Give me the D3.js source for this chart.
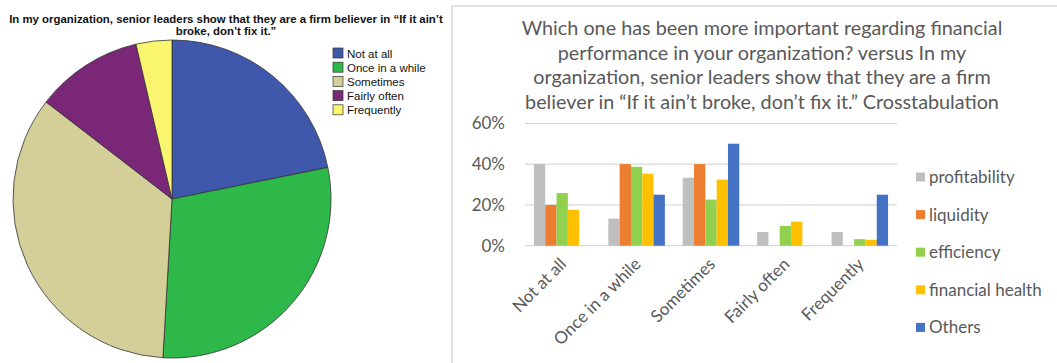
<!DOCTYPE html>
<html>
<head>
<meta charset="utf-8">
<script src="https://cdn.jsdelivr.net/npm/d3@7"></script>
<style>
  html, body { margin: 0; padding: 0; background: #fff; }
  svg { display: block; }
</style>
</head>
<body>
<svg id="chart" width="1057" height="363"></svg>
<script>
// ---- Pie: frequency of responses ----
const pieCategories = ["Not at all", "Once in a while", "Sometimes", "Fairly often", "Frequently"];
const pieCounts = [12, 16, 19, 6, 2];
const pieColors = ["#3f58ab", "#2fb84a", "#d4cf98", "#7a2778", "#faf56f"];
const pieTitle = ["In my organization, senior leaders show that they are a firm believer in \u201cIf it ain\u2019t",
                  "broke, don\u2019t fix it.\u201d"];

// ---- Bars: crosstabulation ----
const barCategories = ["Not at all", "Once in a while", "Sometimes", "Fairly often", "Frequently"];
const seriesNames = ["profitability", "liquidity", "efficiency", "financial health", "Others"];
const seriesColors = ["#bfbfbf", "#ed7d31", "#92d050", "#ffc000", "#4472c4"];
const profitability  = [0.400, 0.133, 0.333, 0.067, 0.067];
const liquidity      = [0.200, 0.400, 0.400, 0.000, 0.000];
const efficiency     = [0.258, 0.387, 0.226, 0.097, 0.032];
const financialHealth= [0.176, 0.353, 0.324, 0.118, 0.029];
const others         = [0.000, 0.250, 0.500, 0.000, 0.250];
const yTicks = [0, 0.2, 0.4, 0.6];
const barTitle = ["Which one has been more important regarding financial",
                  "performance in your organization? versus In my",
                  "organization, senior leaders show that they are a firm",
                  "believer in \u201cIf it ain\u2019t broke, don\u2019t fix it.\u201d Crosstabulation"];

const seriesValues = [profitability, liquidity, efficiency, financialHealth, others];

const svg = d3.select("#chart");

// ================= Pie chart =================
const pieG = svg.append("g");
pieG.selectAll("text.ptitle").data(pieTitle).join("text")
  .attr("class", "ptitle")
  .attr("x", 226).attr("y", (d, i) => 23 + i * 12)
  .attr("text-anchor", "middle")
  .attr("font-family", "Liberation Sans, Arial, sans-serif")
  .attr("font-weight", "bold").attr("font-size", 11.4).attr("fill", "#111")
  .text(d => d);

const pie = d3.pie().sort(null).value(d => d)(pieCounts);
const arc = d3.arc().innerRadius(0).outerRadius(159);
pieG.append("g").attr("transform", "translate(172,199)")
  .selectAll("path").data(pie).join("path")
  .attr("d", arc)
  .attr("fill", (d, i) => pieColors[i])
  .attr("stroke", "#333").attr("stroke-width", 0.8);

const pieLegend = pieG.append("g").attr("transform", "translate(333,48)");
const pl = pieLegend.selectAll("g").data(pieCategories).join("g")
  .attr("transform", (d, i) => `translate(0,${i * 14.2})`);
pl.append("rect").attr("width", 10).attr("height", 10)
  .attr("fill", (d, i) => pieColors[i]).attr("stroke", "#333").attr("stroke-width", 0.7);
pl.append("text").attr("x", 14).attr("y", 9.5)
  .attr("font-family", "Liberation Sans, Arial, sans-serif")
  .attr("font-size", 11.5).attr("fill", "#111").text(d => d);

// ================= Bar chart =================
const barG = svg.append("g");
barG.append("rect").attr("x", 452).attr("y", 6).attr("width", 620).attr("height", 370)
  .attr("fill", "none").attr("stroke", "#d9d9d9").attr("stroke-width", 1.5);

const font = "Lato, 'Open Sans', sans-serif";
barG.selectAll("text.btitle").data(barTitle).join("text")
  .attr("class", "btitle")
  .attr("x", 762).attr("y", (d, i) => 35 + i * 24.5)
  .attr("text-anchor", "middle")
  .attr("font-family", font).attr("font-size", 19.8).attr("fill", "#595959")
  .text(d => d);

const x0 = d3.scaleBand().domain(barCategories).range([525, 897])
  .paddingInner(0.24).paddingOuter(0.12);
const x1 = d3.scaleBand().domain(seriesNames).range([0, x0.bandwidth()]);
const y = d3.scaleLinear().domain([0, 0.6]).range([245.7, 123.3]);

// gridlines
barG.append("g").selectAll("line").data(yTicks).join("line")
  .attr("x1", 525).attr("x2", 897)
  .attr("y1", d => y(d)).attr("y2", d => y(d))
  .attr("stroke", "#d9d9d9").attr("stroke-width", 1.2);

// y axis labels
const yAxis = d3.axisLeft(y).tickValues(yTicks).tickFormat(d3.format(".0%")).tickSize(0).tickPadding(0);
const yg = barG.append("g").attr("transform", "translate(505,0)").call(yAxis);
yg.select(".domain").remove();
yg.selectAll("text").attr("font-family", font).attr("font-size", 17).attr("fill", "#595959");

// bars
const groups = barG.append("g").selectAll("g").data(barCategories).join("g")
  .attr("transform", d => `translate(${x0(d)},0)`);
groups.selectAll("rect").data((c, ci) => seriesNames.map((s, si) => ({ s, si, v: seriesValues[si][ci] })))
  .join("rect")
  .attr("x", d => x1(d.s)).attr("width", x1.bandwidth())
  .attr("y", d => y(d.v)).attr("height", d => y(0) - y(d.v))
  .attr("fill", d => seriesColors[d.si]);

// x axis labels (rotated)
const xAxis = d3.axisBottom(x0).tickSize(0).tickPadding(0);
const xg = barG.append("g").attr("transform", "translate(0,257)").call(xAxis);
xg.select(".domain").remove();
xg.selectAll("text")
  .attr("font-family", font).attr("font-size", 17).attr("fill", "#595959")
  .attr("text-anchor", "end").attr("dy", "0.35em")
  .attr("transform", "translate(1,4) rotate(-45)");

// legend
const lg = barG.append("g").attr("transform", "translate(916,177)");
const li = lg.selectAll("g").data(seriesNames).join("g")
  .attr("transform", (d, i) => `translate(0,${i * 37.6})`);
li.append("rect").attr("y", -4.5).attr("width", 9).attr("height", 9)
  .attr("fill", (d, i) => seriesColors[i]);
li.append("text").attr("x", 13).attr("dy", "0.35em")
  .attr("font-family", font).attr("font-size", 17).attr("fill", "#595959")
  .text(d => d);
</script>
</body>
</html>
